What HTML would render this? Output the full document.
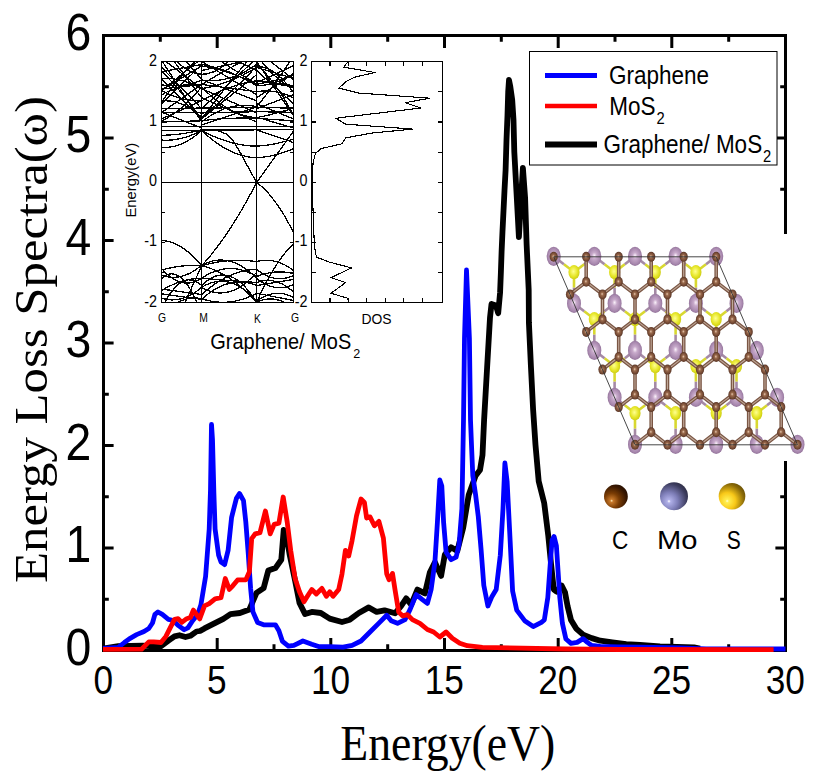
<!DOCTYPE html><html><head><meta charset="utf-8"><style>html,body{margin:0;padding:0;background:#fff;}svg{display:block;}</style></head><body>
<svg width="819" height="783" viewBox="0 0 819 783">
<rect width="819" height="783" fill="#fff"/>
<g stroke="#000" stroke-width="3" fill="none">
<rect x="103.5" y="35.5" width="682.0" height="615.0"/>
<path d="M160.3 650.5V644.3M160.3 35.5V41.7M217.2 650.5V638.0M217.2 35.5V48.0M274.0 650.5V644.3M274.0 35.5V41.7M330.8 650.5V638.0M330.8 35.5V48.0M387.7 650.5V644.3M387.7 35.5V41.7M444.5 650.5V638.0M444.5 35.5V48.0M501.3 650.5V644.3M501.3 35.5V41.7M558.2 650.5V638.0M558.2 35.5V48.0M615.0 650.5V644.3M615.0 35.5V41.7M671.8 650.5V638.0M671.8 35.5V48.0M728.7 650.5V644.3M728.7 35.5V41.7M103.5 599.2H108.8M785.5 599.2H780.2M103.5 548.0H113.6M785.5 548.0H775.4M103.5 496.8H108.8M785.5 496.8H780.2M103.5 445.5H113.6M785.5 445.5H775.4M103.5 394.2H108.8M785.5 394.2H780.2M103.5 343.0H113.6M785.5 343.0H775.4M103.5 291.8H108.8M785.5 291.8H780.2M103.5 240.5H113.6M785.5 240.5H775.4M103.5 189.2H108.8M785.5 189.2H780.2M103.5 138.0H113.6M785.5 138.0H775.4M103.5 86.8H108.8M785.5 86.8H780.2"/>
</g>
<g fill="none" stroke-linejoin="round" stroke-linecap="butt">
<polyline points="103.0,648.6 118.3,646.2 142.7,645.6 157.5,646.5 161.0,646.2 168.4,640.7 174.5,636.4 179.4,635.2 185.5,637.0 190.4,635.8 196.5,631.5 200.0,631.0 204.5,628.4 213.9,623.7 223.4,618.9 230.5,614.2 239.9,613.0 249.4,609.5 256.5,592.9 263.6,588.2 268.3,570.5 275.4,568.1 281.3,559.8 283.7,530.0 286.0,533.8 289.5,553.8 295.1,580.6 299.5,603.0 305.1,614.1 311.8,611.9 320.8,613.0 329.7,618.6 342.0,622.0 349.8,619.7 358.8,613.0 368.8,607.4 376.7,611.9 384.5,610.3 395.0,613.3 401.2,605.8 406.2,598.4 411.2,604.6 417.4,589.6 424.9,593.4 429.9,572.2 434.9,562.2 441.1,575.9 444.8,554.7 451.1,547.3 457.3,551.0 463.2,527.8 468.7,494.9 475.6,475.7 480.0,470.0 482.5,455.0 484.1,420.0 487.1,367.6 490.0,317.6 491.5,304.0 495.9,305.5 498.2,313.2 500.1,292.4 500.9,272.0 501.6,251.6 502.5,231.2 503.5,210.8 504.5,190.4 505.6,170.0 506.5,140.0 507.5,115.0 508.2,92.0 509.0,80.0 510.2,86.0 512.2,100.0 513.5,120.0 514.3,151.9 516.8,197.9 518.9,237.0 521.1,197.9 522.9,168.0 525.1,197.9 526.6,243.8 528.7,290.0 528.9,322.5 530.9,365.9 533.1,409.3 535.5,445.0 538.7,481.2 544.2,503.1 548.3,536.0 551.0,563.5 553.8,589.5 556.4,591.6 561.6,585.5 565.0,592.4 567.6,606.2 571.0,620.0 576.2,628.6 583.1,634.7 591.7,638.1 600.3,640.7 612.4,642.4 626.2,644.1 640.0,645.0 660.0,646.3 694.0,647.3 700.0,648.5" stroke="#000" stroke-width="5.8"/>
<polyline points="103.0,648.4 118.3,647.4 124.4,642.5 129.3,638.8 136.6,634.6 144.0,631.5 148.8,628.5 152.5,623.0 154.9,614.4 158.0,612.0 162.3,614.4 168.4,619.3 173.3,620.5 178.1,625.4 184.2,629.7 187.9,627.9 192.8,620.5 197.7,614.4 200.9,604.8 205.6,576.4 209.2,529.1 210.5,490.0 211.5,424.5 212.5,440.0 213.9,493.6 215.1,529.1 218.6,555.1 221.0,562.0 224.6,564.6 228.1,550.4 231.6,517.3 236.4,498.4 239.5,493.5 243.5,500.7 245.8,522.0 248.2,552.7 250.6,588.2 252.9,611.8 257.6,622.5 263.6,624.8 275.4,624.8 278.9,630.8 282.5,641.4 288.4,646.1 293.9,645.4 302.9,641.0 311.8,644.3 318.5,646.6 329.7,646.6 343.1,647.2 352.1,645.4 361.0,641.0 370.0,632.0 378.9,623.1 386.7,615.3 391.2,620.8 397.5,623.3 405.0,619.6 410.0,609.6 416.2,594.6 422.4,599.6 427.4,603.4 431.1,589.6 434.9,562.2 437.4,522.3 439.8,480.0 441.8,486.0 443.6,522.3 446.1,552.2 451.1,559.7 456.1,557.2 459.1,544.3 461.9,508.6 463.5,420.0 464.5,338.0 466.5,270.0 469.4,338.0 470.5,420.0 471.5,445.0 472.8,475.7 475.6,494.9 478.3,516.8 481.1,549.7 483.8,585.4 487.9,606.0 492.0,596.4 496.2,589.5 500.3,555.2 503.0,508.6 504.9,463.0 507.1,481.2 509.9,536.0 512.6,590.9 516.7,610.1 525.0,621.1 533.2,626.6 541.4,622.4 544.3,620.0 547.8,597.6 550.3,563.1 552.1,540.0 554.1,536.5 556.4,545.9 558.1,571.7 559.8,597.6 562.4,623.4 565.9,639.0 571.0,643.3 577.1,642.4 583.1,638.6 587.4,642.4 591.7,645.5 600.3,646.5 617.6,646.8 640.0,647.2 680.0,648.0 706.0,648.8 785.5,649.0" stroke="#0000ff" stroke-width="4.8"/>
<polyline points="103.0,649.4 141.5,649.2 148.8,641.9 153.7,641.9 161.0,642.5 165.9,636.4 170.8,626.6 174.5,619.3 178.1,618.7 181.8,622.4 186.7,618.7 190.4,617.5 193.4,610.1 196.5,614.4 199.7,618.9 204.5,605.9 209.2,603.6 215.1,598.8 221.0,597.7 225.3,578.5 229.3,589.4 232.8,585.8 237.6,579.9 245.8,579.9 249.4,571.7 251.7,538.6 255.3,533.8 260.0,532.6 265.4,511.0 270.2,533.8 274.2,524.4 278.9,523.2 283.2,497.0 287.2,522.0 290.7,550.4 295.1,578.4 299.5,591.8 304.0,601.8 307.4,596.3 311.8,589.5 316.3,594.0 321.9,588.4 326.4,596.3 329.7,591.8 333.1,596.3 338.7,589.5 342.0,573.9 345.4,550.4 348.7,556.0 352.1,540.4 356.5,515.8 361.0,499.0 364.4,502.4 366.6,518.0 370.0,516.9 374.4,525.8 378.9,521.4 383.4,538.1 386.7,573.9 389.0,579.7 392.5,573.4 395.0,589.6 398.7,612.1 402.5,615.8 407.4,614.6 412.4,619.6 419.9,623.3 427.4,629.5 433.6,632.0 439.8,637.0 446.1,632.0 452.3,638.3 459.8,643.2 467.3,645.7 482.4,647.3 565.0,649.0 620.0,649.5 773.6,649.6" stroke="#ff0000" stroke-width="4.8"/>
</g>
<g fill="#000">
<text transform="translate(91.40,664.50) scale(0.900,1)" font-family="Liberation Sans, sans-serif" font-size="51.50" text-anchor="end" >0</text>
<text transform="translate(91.40,562.00) scale(0.900,1)" font-family="Liberation Sans, sans-serif" font-size="51.50" text-anchor="end" >1</text>
<text transform="translate(91.40,459.50) scale(0.900,1)" font-family="Liberation Sans, sans-serif" font-size="51.50" text-anchor="end" >2</text>
<text transform="translate(91.40,357.00) scale(0.900,1)" font-family="Liberation Sans, sans-serif" font-size="51.50" text-anchor="end" >3</text>
<text transform="translate(91.40,254.50) scale(0.900,1)" font-family="Liberation Sans, sans-serif" font-size="51.50" text-anchor="end" >4</text>
<text transform="translate(91.40,152.00) scale(0.900,1)" font-family="Liberation Sans, sans-serif" font-size="51.50" text-anchor="end" >5</text>
<text transform="translate(91.40,49.50) scale(0.900,1)" font-family="Liberation Sans, sans-serif" font-size="51.50" text-anchor="end" >6</text>
<text transform="translate(103.20,694.00) scale(0.880,1)" font-family="Liberation Sans, sans-serif" font-size="40.00" text-anchor="middle" >0</text>
<text transform="translate(216.87,694.00) scale(0.880,1)" font-family="Liberation Sans, sans-serif" font-size="40.00" text-anchor="middle" >5</text>
<text transform="translate(330.53,694.00) scale(0.880,1)" font-family="Liberation Sans, sans-serif" font-size="40.00" text-anchor="middle" >10</text>
<text transform="translate(444.20,694.00) scale(0.880,1)" font-family="Liberation Sans, sans-serif" font-size="40.00" text-anchor="middle" >15</text>
<text transform="translate(557.87,694.00) scale(0.880,1)" font-family="Liberation Sans, sans-serif" font-size="40.00" text-anchor="middle" >20</text>
<text transform="translate(671.53,694.00) scale(0.880,1)" font-family="Liberation Sans, sans-serif" font-size="40.00" text-anchor="middle" >25</text>
<text transform="translate(785.20,694.00) scale(0.880,1)" font-family="Liberation Sans, sans-serif" font-size="40.00" text-anchor="middle" >30</text>
</g>
<text x="340.3" y="760" font-family="Liberation Serif, serif" font-size="49.7" textLength="215" lengthAdjust="spacingAndGlyphs">Energy(eV)</text>
<text transform="translate(47,583) rotate(-90)" x="0" y="0" font-family="Liberation Serif, serif" font-size="46.7" textLength="487" lengthAdjust="spacingAndGlyphs">Energy Loss Spectra(&#969;)</text>
<rect x="529.5" y="51.5" width="247.5" height="113.5" fill="#fff" stroke="#000" stroke-width="1"/>
<path d="M545 75.5H597" stroke="#0000ff" stroke-width="5"/>
<path d="M545 106H597" stroke="#ff0000" stroke-width="4.6"/>
<path d="M545 144.6H597" stroke="#000" stroke-width="6"/>
<text transform="translate(609.00,83.70) scale(0.900,1)" font-family="Liberation Sans, sans-serif" font-size="25.00" text-anchor="start" >Graphene</text>
<text transform="translate(609.20,115.00) scale(0.900,1)" font-family="Liberation Sans, sans-serif" font-size="25.00" text-anchor="start" >MoS</text>
<text transform="translate(656.40,124.00) scale(0.940,1)" font-family="Liberation Sans, sans-serif" font-size="15.70" text-anchor="start" >2</text>
<text transform="translate(603.40,152.80) scale(0.900,1)" font-family="Liberation Sans, sans-serif" font-size="25.00" text-anchor="start" >Graphene/ MoS</text>
<text transform="translate(762.90,161.90) scale(0.940,1)" font-family="Liberation Sans, sans-serif" font-size="15.70" text-anchor="start" >2</text>
<g>
<defs><clipPath id="bc"><rect x="161.8" y="61.5" width="131.8" height="240.9"/></clipPath></defs>
<g clip-path="url(#bc)" fill="none" stroke="#000" stroke-width="1.3" stroke-linejoin="round" shape-rendering="crispEdges">
<polyline points="161.8,240.6 165.1,240.9 168.4,241.5 171.8,242.4 175.1,243.7 178.4,245.3 181.7,247.2 185.0,249.5 188.3,252.1 191.7,255.0 195.0,258.2 198.3,261.8 201.6,265.8"/>
<polyline points="201.6,265.8 206.2,260.7 210.8,255.2 215.3,249.4 219.9,243.3 224.5,236.9 229.1,230.1 233.7,223.0 238.3,215.6 242.9,207.8 247.4,199.7 252.0,191.3 256.6,182.5"/>
<polyline points="256.6,182.5 259.7,184.9 262.8,187.6 265.9,190.6 268.9,193.9 272.0,197.6 275.1,201.7 278.2,206.0 281.3,210.7 284.4,215.7 287.4,221.1 290.5,226.8 293.6,232.8"/>
<polyline points="256.6,302.3 259.7,295.6 262.8,289.2 265.9,283.1 268.9,277.4 272.0,272.0 275.1,267.0 278.2,262.2 281.3,257.8 284.4,253.8 287.4,250.1 290.5,246.7 293.6,243.6"/>
<polyline points="183.8,305.3 185.3,302.0 186.8,298.7 188.2,295.4 189.7,292.1 191.2,288.8 192.7,285.5 194.2,282.2 195.7,278.9 197.2,275.6 198.6,272.4 200.1,269.1 201.6,265.8"/>
<polyline points="201.6,265.8 206.2,267.0 210.8,268.5 215.3,270.4 219.9,272.6 224.5,275.2 229.1,278.0 233.7,281.3 238.3,284.8 242.9,288.7 247.4,292.9 252.0,297.4 256.6,302.3"/>
<polyline points="161.8,270.0 165.1,269.1 168.4,268.3 171.8,267.6 175.1,267.0 178.4,266.5 181.7,266.1 185.0,265.8 188.3,265.6 191.7,265.5 195.0,265.5 198.3,265.6 201.6,265.8 206.2,264.5 210.8,263.4 215.3,262.5 219.9,261.7 224.5,261.1 229.1,260.7 233.7,260.4 238.3,260.3 242.9,260.4 247.4,260.6 252.0,261.0 256.6,261.6 259.7,260.9 262.8,260.4 265.9,260.2 268.9,260.3 272.0,260.7 275.1,261.3 278.2,262.2 281.3,263.3 284.4,264.7 287.4,266.4 290.5,268.3 293.6,270.6"/>
<polyline points="161.8,268.8 165.1,272.3 168.4,275.3 171.8,277.9 175.1,279.9 178.4,281.5 181.7,282.5 185.0,283.1 188.3,283.1 191.7,282.7 195.0,281.7 198.3,280.3 201.6,278.3 206.2,275.4 210.8,273.0 215.3,271.2 219.9,269.8 224.5,268.9 229.1,268.5 233.7,268.6 238.3,269.2 242.9,270.3 247.4,271.9 252.0,273.9 256.6,276.5 259.7,275.4 262.8,274.4 265.9,273.5 268.9,272.9 272.0,272.4 275.1,272.1 278.2,271.9 281.3,271.9 284.4,272.1 287.4,272.4 290.5,272.9 293.6,273.5"/>
<polyline points="161.8,275.3 165.1,276.3 168.4,277.0 171.8,277.3 175.1,277.3 178.4,276.9 181.7,276.2 185.0,275.2 188.3,273.9 191.7,272.2 195.0,270.2 198.3,267.8 201.6,265.2 206.2,263.0 210.8,261.4 215.3,260.4 219.9,260.0 224.5,260.2 229.1,261.0 233.7,262.4 238.3,264.4 242.9,267.0 247.4,270.2 252.0,273.9 256.6,278.3 259.7,280.7 262.8,282.7 265.9,284.3 268.9,285.7 272.0,286.7 275.1,287.3 278.2,287.7 281.3,287.7 284.4,287.3 287.4,286.7 290.5,285.7 293.6,284.3"/>
<polyline points="161.8,289.1 165.1,289.6 168.4,290.0 171.8,290.5 175.1,290.9 178.4,291.4 181.7,291.8 185.0,292.3 188.3,292.7 191.7,293.2 195.0,293.6 198.3,294.1 201.6,294.5 206.2,290.6 210.8,287.0 215.3,283.7 219.9,280.8 224.5,278.2 229.1,275.9 233.7,274.0 238.3,272.4 242.9,271.2 247.4,270.2 252.0,269.6 256.6,269.4 259.7,271.7 262.8,273.7 265.9,275.3 268.9,276.7 272.0,277.7 275.1,278.3 278.2,278.7 281.3,278.7 284.4,278.3 287.4,277.7 290.5,276.7 293.6,275.3"/>
<polyline points="161.8,290.3 165.1,288.4 168.4,286.7 171.8,285.1 175.1,283.7 178.4,282.4 181.7,281.3 185.0,280.4 188.3,279.7 191.7,279.1 195.0,278.7 198.3,278.4 201.6,278.3 206.2,278.7 210.8,279.0 215.3,279.4 219.9,279.7 224.5,280.1 229.1,280.4 233.7,280.8 238.3,281.1 242.9,281.5 247.4,281.8 252.0,282.2 256.6,282.5 259.7,281.5 262.8,280.8 265.9,280.4 268.9,280.4 272.0,280.7 275.1,281.3 278.2,282.3 281.3,283.6 284.4,285.2 287.4,287.2 290.5,289.5 293.6,292.1"/>
<polyline points="161.8,293.9 165.1,294.4 168.4,294.8 171.8,295.3 175.1,295.7 178.4,296.2 181.7,296.6 185.0,297.1 188.3,297.5 191.7,298.0 195.0,298.4 198.3,298.9 201.6,299.3 206.2,295.4 210.8,292.0 215.3,289.1 219.9,286.7 224.5,284.8 229.1,283.4 233.7,282.5 238.3,282.1 242.9,282.2 247.4,282.8 252.0,283.9 256.6,285.5 259.7,285.0 262.8,284.5 265.9,284.0 268.9,283.5 272.0,283.0 275.1,282.5 278.2,282.0 281.3,281.5 284.4,281.0 287.4,280.5 290.5,280.0 293.6,279.5"/>
<polyline points="161.8,298.1 165.1,299.0 168.4,299.6 171.8,299.9 175.1,299.8 178.4,299.4 181.7,298.7 185.0,297.6 188.3,296.2 191.7,294.5 195.0,292.4 198.3,290.1 201.6,287.3 206.2,284.8 210.8,283.0 215.3,281.8 219.9,281.3 224.5,281.4 229.1,282.2 233.7,283.7 238.3,285.9 242.9,288.7 247.4,292.2 252.0,296.3 256.6,301.1 259.7,299.0 262.8,297.2 265.9,295.7 268.9,294.6 272.0,293.8 275.1,293.3 278.2,293.2 281.3,293.4 284.4,293.9 287.4,294.8 290.5,296.0 293.6,297.5"/>
<polyline points="161.8,308.3 165.1,301.8 168.4,296.2 171.8,291.4 175.1,287.4 178.4,284.2 181.7,281.9 185.0,280.5 188.3,279.8 191.7,280.0 195.0,281.0 198.3,282.8 201.6,285.5 206.2,281.4 210.8,278.3 215.3,276.2 219.9,275.1 224.5,275.0 229.1,275.9 233.7,277.8 238.3,280.7 242.9,284.6 247.4,289.5 252.0,295.4 256.6,302.3 259.7,301.0 262.8,300.0 265.9,299.3 268.9,299.0 272.0,299.0 275.1,299.3 278.2,300.0 281.3,301.0 284.4,302.3 287.4,304.0 290.5,306.0 293.6,308.3"/>
<polyline points="161.8,314.3 165.1,311.2 168.4,308.4 171.8,305.9 175.1,303.8 178.4,302.0 181.7,300.5 185.0,299.4 188.3,298.6 191.7,298.1 195.0,298.0 198.3,298.2 201.6,298.7 206.2,300.1 210.8,301.1 215.3,301.9 219.9,302.2 224.5,302.3 229.1,302.0 233.7,301.4 238.3,300.4 242.9,299.2 247.4,297.5 252.0,295.6 256.6,293.3 259.7,293.9 262.8,294.5 265.9,295.1 268.9,295.7 272.0,296.3 275.1,296.9 278.2,297.5 281.3,298.1 284.4,298.7 287.4,299.3 290.5,299.9 293.6,300.5"/>
<polyline points="161.8,278.3 165.1,275.8 168.4,274.3 171.8,273.8 175.1,274.3 178.4,275.8 181.7,278.3 185.0,281.8 188.3,286.3 191.7,291.8 195.0,298.3 198.3,305.8 201.6,314.3"/>
<polyline points="201.6,287.3 206.2,289.7 210.8,291.5 215.3,292.6 219.9,293.0 224.5,292.7 229.1,291.8 233.7,290.2 238.3,288.0 242.9,285.1 247.4,281.5 252.0,277.3 256.6,272.4"/>
<polyline points="161.8,147.4 165.1,147.5 168.4,147.3 171.8,146.8 175.1,146.1 178.4,145.0 181.7,143.8 185.0,142.2 188.3,140.4 191.7,138.3 195.0,136.0 198.3,133.3 201.6,130.4 206.2,134.7 210.8,138.5 215.3,142.0 219.9,145.2 224.5,148.0 229.1,150.4 233.7,152.5 238.3,154.3 242.9,155.6 247.4,156.7 252.0,157.4 256.6,157.7 259.7,157.5 262.8,157.2 265.9,156.8 268.9,156.3 272.0,155.7 275.1,155.0 278.2,154.2 281.3,153.2 284.4,152.2 287.4,151.1 290.5,149.9 293.6,148.6"/>
<polyline points="161.8,140.1 165.1,140.3 168.4,140.2 171.8,140.0 175.1,139.6 178.4,139.0 181.7,138.3 185.0,137.4 188.3,136.4 191.7,135.1 195.0,133.7 198.3,132.2 201.6,130.4 206.2,132.9 210.8,135.1 215.3,137.1 219.9,138.9 224.5,140.5 229.1,141.9 233.7,143.2 238.3,144.2 242.9,145.0 247.4,145.6 252.0,146.0 256.6,146.2 259.7,145.9 262.8,145.6 265.9,145.3 268.9,144.8 272.0,144.3 275.1,143.8 278.2,143.1 281.3,142.4 284.4,141.6 287.4,140.8 290.5,139.9 293.6,138.9"/>
<polyline points="161.8,135.3 165.1,135.2 168.4,135.1 171.8,134.8 175.1,134.6 178.4,134.2 181.7,133.8 185.0,133.3 188.3,132.7 191.7,132.1 195.0,131.4 198.3,130.7 201.6,129.8 206.2,129.8 210.8,129.8 215.3,129.8 219.9,129.8 224.5,129.8 229.1,129.8 233.7,129.8 238.3,129.8 242.9,129.8 247.4,129.8 252.0,129.8 256.6,129.8 259.7,130.9 262.8,132.0 265.9,133.0 268.9,134.1 272.0,135.1 275.1,136.2 278.2,137.3 281.3,138.3 284.4,139.4 287.4,140.4 290.5,141.5 293.6,142.6"/>
<polyline points="256.6,182.5 246.9,164.9 241.5,154.7 233.2,140.7 226.6,134.1 218.0,130.8 210.0,130.1 201.6,129.8"/>
<polyline points="256.6,182.5 259.7,178.2 262.8,173.9 265.9,169.6 268.9,165.4 272.0,161.1 275.1,156.8 278.2,152.5 281.3,148.2 284.4,143.9 287.4,139.6 290.5,135.3 293.6,131.1"/>
<polyline points="161.8,130.4 165.1,130.4 168.4,130.4 171.8,130.4 175.1,130.4 178.4,130.4 181.7,130.4 185.0,130.4 188.3,130.4 191.7,130.4 195.0,130.4 198.3,130.4 201.6,130.4 206.2,130.4 210.8,130.3 215.3,130.3 219.9,130.2 224.5,130.2 229.1,130.1 233.7,130.1 238.3,130.0 242.9,130.0 247.4,129.9 252.0,129.9 256.6,129.8 259.7,129.8 262.8,129.7 265.9,129.7 268.9,129.6 272.0,129.6 275.1,129.5 278.2,129.5 281.3,129.4 284.4,129.4 287.4,129.3 290.5,129.3 293.6,129.2"/>
<polyline points="161.8,126.8 165.1,126.8 168.4,126.7 171.8,126.7 175.1,126.6 178.4,126.6 181.7,126.5 185.0,126.5 188.3,126.4 191.7,126.4 195.0,126.3 198.3,126.3 201.6,126.2 206.2,126.3 210.8,126.3 215.3,126.4 219.9,126.4 224.5,126.5 229.1,126.5 233.7,126.6 238.3,126.6 242.9,126.7 247.4,126.7 252.0,126.8 256.6,126.8 259.7,126.8 262.8,126.7 265.9,126.7 268.9,126.6 272.0,126.6 275.1,126.5 278.2,126.5 281.3,126.4 284.4,126.4 287.4,126.3 290.5,126.3 293.6,126.2"/>
<polyline points="161.8,122.0 165.1,121.9 168.4,121.8 171.8,121.7 175.1,121.6 178.4,121.5 181.7,121.4 185.0,121.3 188.3,121.2 191.7,121.1 195.0,121.0 198.3,120.9 201.6,120.8 206.2,120.2 210.8,119.7 215.3,119.3 219.9,118.9 224.5,118.6 229.1,118.3 233.7,118.2 238.3,118.1 242.9,118.0 247.4,118.1 252.0,118.2 256.6,118.3 259.7,118.5 262.8,118.7 265.9,118.9 268.9,119.2 272.0,119.4 275.1,119.6 278.2,119.8 281.3,120.0 284.4,120.2 287.4,120.4 290.5,120.6 293.6,120.8"/>
<polyline points="161.8,112.3 165.1,112.3 168.4,112.4 171.8,112.4 175.1,112.5 178.4,112.5 181.7,112.6 185.0,112.6 188.3,112.7 191.7,112.7 195.0,112.8 198.3,112.8 201.6,112.9 206.2,112.8 210.8,112.7 215.3,112.6 219.9,112.5 224.5,112.4 229.1,112.3 233.7,112.2 238.3,112.1 242.9,112.0 247.4,111.9 252.0,111.8 256.6,111.7 259.7,111.7 262.8,111.8 265.9,111.8 268.9,111.9 272.0,111.9 275.1,112.0 278.2,112.0 281.3,112.1 284.4,112.1 287.4,112.2 290.5,112.2 293.6,112.3"/>
<polyline points="161.8,108.7 165.1,108.6 168.4,108.6 171.8,108.5 175.1,108.5 178.4,108.4 181.7,108.4 185.0,108.3 188.3,108.3 191.7,108.2 195.0,108.2 198.3,108.1 201.6,108.1 206.2,108.0 210.8,108.0 215.3,107.9 219.9,107.9 224.5,107.8 229.1,107.8 233.7,107.7 238.3,107.7 242.9,107.6 247.4,107.5 252.0,107.5 256.6,107.4 259.7,107.5 262.8,107.5 265.9,107.6 268.9,107.7 272.0,107.7 275.1,107.8 278.2,107.8 281.3,107.9 284.4,107.9 287.4,108.0 290.5,108.0 293.6,108.1"/>
<polyline points="161.8,94.7 165.1,93.0 168.4,91.3 171.8,89.9 175.1,88.6 178.4,87.5 181.7,86.6 185.0,85.8 188.3,85.2 191.7,84.8 195.0,84.5 198.3,84.4 201.6,84.4 206.2,85.1 210.8,85.7 215.3,86.3 219.9,86.9 224.5,87.5 229.1,88.1 233.7,88.7 238.3,89.3 242.9,89.9 247.4,90.5 252.0,91.1 256.6,91.7 259.7,91.3 262.8,91.0 265.9,91.0 268.9,91.0 272.0,91.3 275.1,91.7 278.2,92.3 281.3,93.1 284.4,94.0 287.4,95.1 290.5,96.3 293.6,97.8"/>
<polyline points="161.8,90.5 165.1,92.3 168.4,93.9 171.8,95.3 175.1,96.6 178.4,97.7 181.7,98.7 185.0,99.4 188.3,100.1 191.7,100.5 195.0,100.8 198.3,100.9 201.6,100.8 206.2,98.2 210.8,95.8 215.3,93.5 219.9,91.4 224.5,89.5 229.1,87.8 233.7,86.2 238.3,84.8 242.9,83.5 247.4,82.5 252.0,81.6 256.6,80.8 259.7,81.3 262.8,81.8 265.9,82.3 268.9,82.8 272.0,83.3 275.1,83.8 278.2,84.3 281.3,84.9 284.4,85.4 287.4,85.9 290.5,86.4 293.6,86.9"/>
<polyline points="161.8,78.4 165.1,78.3 168.4,78.4 171.8,78.7 175.1,79.1 178.4,79.7 181.7,80.5 185.0,81.5 188.3,82.6 191.7,83.8 195.0,85.3 198.3,86.9 201.6,88.7 206.2,87.8 210.8,86.8 215.3,85.7 219.9,84.3 224.5,82.8 229.1,81.1 233.7,79.3 238.3,77.3 242.9,75.1 247.4,72.7 252.0,70.2 256.6,67.5 259.7,68.4 262.8,69.3 265.9,70.2 268.9,71.1 272.0,72.0 275.1,72.9 278.2,73.9 281.3,74.8 284.4,75.7 287.4,76.6 290.5,77.5 293.6,78.4"/>
<polyline points="161.8,71.7 165.1,71.1 168.4,70.5 171.8,69.9 175.1,69.3 178.4,68.7 181.7,68.1 185.0,67.5 188.3,66.9 191.7,66.3 195.0,65.7 198.3,65.1 201.6,64.5 206.2,65.3 210.8,66.3 215.3,67.5 219.9,68.8 224.5,70.4 229.1,72.0 233.7,73.9 238.3,75.9 242.9,78.1 247.4,80.4 252.0,83.0 256.6,85.7 259.7,85.6 262.8,85.3 265.9,84.9 268.9,84.3 272.0,83.6 275.1,82.6 278.2,81.5 281.3,80.3 284.4,78.9 287.4,77.3 290.5,75.5 293.6,73.6"/>
<polyline points="161.8,89.1 165.1,88.7 168.4,88.3 171.8,87.9 175.1,87.5 178.4,87.2 181.7,86.8 185.0,86.4 188.3,86.1 191.7,85.7 195.0,85.4 198.3,85.0 201.6,84.7 206.2,81.8 210.8,79.0 215.3,76.3 219.9,73.6 224.5,71.0 229.1,68.5 233.7,66.1 238.3,63.7 242.9,61.4 247.4,59.1 252.0,56.9 256.6,54.8 259.7,59.0 262.8,62.9 265.9,66.6 268.9,70.0 272.0,73.2 275.1,76.1 278.2,78.7 281.3,81.1 284.4,83.3 287.4,85.1 290.5,86.8 293.6,88.2"/>
<polyline points="161.8,84.8 165.1,85.3 168.4,85.6 171.8,85.7 175.1,85.7 178.4,85.6 181.7,85.3 185.0,84.8 188.3,84.2 191.7,83.4 195.0,82.4 198.3,81.3 201.6,80.0 206.2,80.6 210.8,80.7 215.3,80.6 219.9,80.1 224.5,79.3 229.1,78.2 233.7,76.7 238.3,74.9 242.9,72.8 247.4,70.3 252.0,67.5 256.6,64.4 259.7,67.2 262.8,70.3 265.9,73.7 268.9,77.3 272.0,81.2 275.1,85.3 278.2,89.6 281.3,94.2 284.4,99.1 287.4,104.2 290.5,109.5 293.6,115.1"/>
<polyline points="161.8,71.6 165.1,74.9 168.4,78.3 171.8,81.8 175.1,85.5 178.4,89.3 181.7,93.2 185.0,97.2 188.3,101.3 191.7,105.6 195.0,110.0 198.3,114.5 201.6,119.2 206.2,113.0 210.8,106.8 215.3,100.8 219.9,94.8 224.5,89.0 229.1,83.2 233.7,77.6 238.3,72.0 242.9,66.5 247.4,61.1 252.0,55.8 256.6,50.6 259.7,52.3 262.8,53.6 265.9,54.7 268.9,55.5 272.0,56.0 275.1,56.2 278.2,56.2 281.3,55.9 284.4,55.3 287.4,54.5 290.5,53.3 293.6,51.9"/>
<polyline points="161.8,120.9 165.1,119.2 168.4,117.3 171.8,115.2 175.1,112.9 178.4,110.3 181.7,107.6 185.0,104.6 188.3,101.5 191.7,98.1 195.0,94.6 198.3,90.8 201.6,86.8 206.2,91.5 210.8,95.7 215.3,99.6 219.9,103.1 224.5,106.3 229.1,109.0 233.7,111.4 238.3,113.4 242.9,115.1 247.4,116.3 252.0,117.2 256.6,117.6 259.7,117.0 262.8,116.4 265.9,115.7 268.9,115.0 272.0,114.2 275.1,113.4 278.2,112.6 281.3,111.8 284.4,110.9 287.4,110.0 290.5,109.1 293.6,108.2"/>
<polyline points="161.8,90.0 165.1,88.0 168.4,86.0 171.8,84.0 175.1,82.0 178.4,79.9 181.7,77.9 185.0,75.9 188.3,73.9 191.7,71.9 195.0,69.9 198.3,67.9 201.6,65.9 206.2,66.7 210.8,67.6 215.3,68.7 219.9,69.9 224.5,71.3 229.1,72.7 233.7,74.3 238.3,76.0 242.9,77.9 247.4,79.9 252.0,82.0 256.6,84.3 259.7,83.7 262.8,83.1 265.9,82.5 268.9,81.9 272.0,81.2 275.1,80.5 278.2,79.7 281.3,79.0 284.4,78.1 287.4,77.3 290.5,76.4 293.6,75.5"/>
<polyline points="161.8,101.8 165.1,97.0 168.4,92.4 171.8,88.0 175.1,83.7 178.4,79.6 181.7,75.6 185.0,71.9 188.3,68.3 191.7,64.8 195.0,61.6 198.3,58.5 201.6,55.6 206.2,55.9 210.8,56.1 215.3,56.1 219.9,56.0 224.5,55.7 229.1,55.3 233.7,54.7 238.3,54.0 242.9,53.1 247.4,52.1 252.0,51.0 256.6,49.7 259.7,51.8 262.8,53.7 265.9,55.4 268.9,56.9 272.0,58.2 275.1,59.2 278.2,60.1 281.3,60.7 284.4,61.1 287.4,61.2 290.5,61.2 293.6,61.0"/>
<polyline points="161.8,101.0 165.1,100.8 168.4,100.9 171.8,101.3 175.1,101.9 178.4,102.9 181.7,104.1 185.0,105.6 188.3,107.4 191.7,109.4 195.0,111.8 198.3,114.4 201.6,117.3 206.2,113.6 210.8,109.7 215.3,105.8 219.9,101.8 224.5,97.7 229.1,93.5 233.7,89.2 238.3,84.8 242.9,80.3 247.4,75.7 252.0,71.1 256.6,66.3 259.7,66.5 262.8,67.1 265.9,68.0 268.9,69.3 272.0,70.9 275.1,73.0 278.2,75.4 281.3,78.1 284.4,81.3 287.4,84.8 290.5,88.6 293.6,92.9"/>
<polyline points="161.8,60.4 165.1,65.7 168.4,70.9 171.8,76.1 175.1,81.3 178.4,86.5 181.7,91.6 185.0,96.7 188.3,101.8 191.7,106.9 195.0,111.9 198.3,116.9 201.6,121.9 206.2,118.5 210.8,115.5 215.3,112.9 219.9,110.7 224.5,108.8 229.1,107.4 233.7,106.3 238.3,105.6 242.9,105.3 247.4,105.4 252.0,105.9 256.6,106.7 259.7,103.0 262.8,99.1 265.9,95.1 268.9,91.1 272.0,87.0 275.1,82.8 278.2,78.5 281.3,74.1 284.4,69.7 287.4,65.2 290.5,60.6 293.6,55.9"/>
<polyline points="173.8,58.4 176.1,60.8 178.4,63.1 180.8,65.1 183.1,66.9 185.4,68.5 187.7,69.9 190.0,71.1 192.3,72.1 194.7,72.9 197.0,73.6 199.3,74.0 201.6,74.2"/>
<polyline points="201.6,74.2 203.9,74.1 206.3,73.9 208.6,73.4 210.9,72.7 213.3,71.9 215.6,70.8 217.9,69.6 220.3,68.1 222.6,66.4 224.9,64.6 227.3,62.5 229.6,60.2"/>
<polyline points="161.8,67.5 165.1,70.9 168.4,74.4 171.8,77.8 175.1,81.2 178.4,84.7 181.7,88.1 185.0,91.5 188.3,94.9 191.7,98.4 195.0,101.8 198.3,105.2 201.6,108.7"/>
<polyline points="161.8,58.4 165.1,60.9 168.4,63.5 171.8,66.0 175.1,68.5 178.4,71.0 181.7,73.6 185.0,76.1 188.3,78.6 191.7,81.1 195.0,83.6 198.3,86.2 201.6,88.7"/>
<polyline points="161.8,112.3 165.1,110.0 168.4,107.7 171.8,105.3 175.1,103.0 178.4,100.7 181.7,98.4 185.0,96.1 188.3,93.7 191.7,91.4 195.0,89.1 198.3,86.8 201.6,84.4"/>
<polyline points="161.8,112.3 165.1,113.6 168.4,114.9 171.8,116.2 175.1,117.5 178.4,118.8 181.7,120.2 185.0,121.5 188.3,122.8 191.7,124.1 195.0,125.4 198.3,126.7 201.6,128.0"/>
<polyline points="161.8,90.5 165.1,87.8 168.4,85.2 171.8,82.5 175.1,79.8 178.4,77.1 181.7,74.5 185.0,71.8 188.3,69.1 191.7,66.4 195.0,63.8 198.3,61.1 201.6,58.4"/>
<polyline points="161.8,103.8 165.1,100.5 168.4,97.3 171.8,94.0 175.1,90.7 178.4,87.4 181.7,84.1 185.0,80.9 188.3,77.6 191.7,74.3 195.0,71.0 198.3,67.8 201.6,64.5"/>
<polyline points="171.8,58.4 174.3,61.7 176.8,65.0 179.2,68.3 181.7,71.5 184.2,74.8 186.7,78.1 189.2,81.4 191.7,84.7 194.2,87.9 196.6,91.2 199.1,94.5 201.6,97.8"/>
<polyline points="161.8,79.6 165.1,82.9 168.4,86.2 171.8,89.4 175.1,92.7 178.4,96.0 181.7,99.3 185.0,102.6 188.3,105.8 191.7,109.1 195.0,112.4 198.3,115.7 201.6,118.9"/>
<polyline points="161.8,118.9 165.1,117.4 168.4,115.9 171.8,114.4 175.1,112.9 178.4,111.4 181.7,109.9 185.0,108.4 188.3,106.8 191.7,105.3 195.0,103.8 198.3,102.3 201.6,100.8"/>
<polyline points="183.8,58.4 185.3,60.2 186.8,62.0 188.2,63.7 189.7,65.5 191.2,67.3 192.7,69.0 194.2,70.8 195.7,72.5 197.2,74.3 198.6,76.1 200.1,77.8 201.6,79.6"/>
<polyline points="201.6,108.7 206.2,104.5 210.8,100.3 215.3,96.1 219.9,91.9 224.5,87.7 229.1,83.5 233.7,79.4 238.3,75.2 242.9,71.0 247.4,66.8 252.0,62.6 256.6,58.4"/>
<polyline points="201.6,118.9 206.2,115.3 210.8,111.6 215.3,107.9 219.9,104.2 224.5,100.5 229.1,96.9 233.7,93.2 238.3,89.5 242.9,85.8 247.4,82.1 252.0,78.4 256.6,74.8"/>
<polyline points="201.6,79.6 206.2,81.4 210.8,83.1 215.3,84.9 219.9,86.7 224.5,88.4 229.1,90.2 233.7,92.0 238.3,93.7 242.9,95.5 247.4,97.3 252.0,99.0 256.6,100.8"/>
<polyline points="201.6,88.7 206.2,90.7 210.8,92.7 215.3,94.7 219.9,96.8 224.5,98.8 229.1,100.8 233.7,102.8 238.3,104.8 242.9,106.8 247.4,108.9 252.0,110.9 256.6,112.9"/>
<polyline points="201.6,61.5 206.2,64.2 210.8,67.0 215.3,69.8 219.9,72.5 224.5,75.3 229.1,78.1 233.7,80.9 238.3,83.6 242.9,86.4 247.4,89.2 252.0,92.0 256.6,94.7"/>
<polyline points="201.6,97.8 206.2,99.8 210.8,101.8 215.3,103.8 219.9,105.8 224.5,107.9 229.1,109.9 233.7,111.9 238.3,113.9 242.9,115.9 247.4,117.9 252.0,120.0 256.6,122.0"/>
<polyline points="216.6,58.4 219.9,60.6 223.3,62.8 226.6,64.9 229.9,67.1 233.3,69.3 236.6,71.4 239.9,73.6 243.3,75.8 246.6,77.9 249.9,80.1 253.3,82.3 256.6,84.4"/>
<polyline points="201.6,125.0 206.2,123.5 210.8,122.0 215.3,120.5 219.9,118.9 224.5,117.4 229.1,115.9 233.7,114.4 238.3,112.9 242.9,111.4 247.4,109.9 252.0,108.4 256.6,106.8"/>
<polyline points="231.6,58.4 233.7,59.4 235.8,60.4 237.8,61.5 239.9,62.5 242.0,63.5 244.1,64.5 246.2,65.5 248.3,66.5 250.4,67.5 252.4,68.5 254.5,69.5 256.6,70.5"/>
<polyline points="201.6,70.5 206.2,69.5 210.8,68.5 215.3,67.5 219.9,66.5 224.5,65.5 229.1,64.5 233.7,63.5 238.3,62.5 242.9,61.5 247.4,60.4 252.0,59.4 256.6,58.4"/>
<polyline points="256.6,61.5 259.7,66.0 262.8,70.5 265.9,75.1 268.9,79.6 272.0,84.1 275.1,88.7 278.2,93.2 281.3,97.8 284.4,102.3 287.4,106.8 290.5,111.4 293.6,115.9"/>
<polyline points="256.6,108.7 259.7,107.5 262.8,106.3 265.9,105.2 268.9,104.0 272.0,102.9 275.1,101.7 278.2,100.5 281.3,99.4 284.4,98.2 287.4,97.1 290.5,95.9 293.6,94.7"/>
<polyline points="256.6,117.1 259.7,118.0 262.8,118.9 265.9,119.9 268.9,120.8 272.0,121.7 275.1,122.6 278.2,123.5 281.3,124.4 284.4,125.3 287.4,126.2 290.5,127.1 293.6,128.0"/>
<polyline points="256.6,82.6 259.7,81.2 262.8,79.8 265.9,78.4 268.9,77.0 272.0,75.6 275.1,74.2 278.2,72.7 281.3,71.3 284.4,69.9 287.4,68.5 290.5,67.1 293.6,65.7"/>
<polyline points="256.6,80.2 259.7,80.7 262.8,81.1 265.9,81.6 268.9,82.0 272.0,82.5 275.1,82.9 278.2,83.4 281.3,83.8 284.4,84.3 287.4,84.8 290.5,85.2 293.6,85.7"/>
<polyline points="256.6,97.8 259.7,95.7 262.8,93.7 265.9,91.7 268.9,89.7 272.0,87.7 275.1,85.7 278.2,83.6 281.3,81.6 284.4,79.6 287.4,77.6 290.5,75.6 293.6,73.6"/>
<polyline points="256.6,70.5 259.7,73.3 262.8,76.1 265.9,78.9 268.9,81.6 272.0,84.4 275.1,87.2 278.2,89.9 281.3,92.7 284.4,95.5 287.4,98.3 290.5,101.0 293.6,103.8"/>
<polyline points="266.6,58.4 268.9,60.2 271.1,62.0 273.4,63.7 275.6,65.5 277.9,67.3 280.1,69.0 282.4,70.8 284.6,72.5 286.9,74.3 289.1,76.1 291.4,77.8 293.6,79.6"/>
<polyline points="256.6,103.8 259.7,105.1 262.8,106.3 265.9,107.6 268.9,108.9 272.0,110.1 275.1,111.4 278.2,112.6 281.3,113.9 284.4,115.2 287.4,116.4 290.5,117.7 293.6,118.9"/>
</g>
<g fill="none" stroke="#000" stroke-width="1.1" shape-rendering="crispEdges">
<rect x="161.8" y="61.5" width="131.8" height="240.9"/>
<rect x="311.6" y="61.5" width="130.7" height="240.9"/>
<path d="M201.6 61.5V302.3 M256.6 61.5V302.3 M161.8 182.5H293.6M161.8 61.5h3.2M293.6 61.5h-3.6M311.6 61.5h4M442.3 61.5h-4M161.8 91.7h3.2M293.6 91.7h-3.6M311.6 91.7h4M442.3 91.7h-4M161.8 122.0h3.2M293.6 122.0h-3.6M311.6 122.0h4M442.3 122.0h-4M161.8 152.2h3.2M293.6 152.2h-3.6M311.6 152.2h4M442.3 152.2h-4M161.8 182.5h3.2M293.6 182.5h-3.6M311.6 182.5h4M442.3 182.5h-4M161.8 212.4h3.2M293.6 212.4h-3.6M311.6 212.4h4M442.3 212.4h-4M161.8 242.4h3.2M293.6 242.4h-3.6M311.6 242.4h4M442.3 242.4h-4M161.8 272.4h3.2M293.6 272.4h-3.6M311.6 272.4h4M442.3 272.4h-4M161.8 302.3h3.2M293.6 302.3h-3.6M311.6 302.3h4M442.3 302.3h-4M330.0 61.5v4M330.0 302.3v-4M348.4 61.5v4M348.4 302.3v-4M366.8 61.5v4M366.8 302.3v-4M385.2 61.5v4M385.2 302.3v-4M403.6 61.5v4M403.6 302.3v-4M422.1 61.5v4M422.1 302.3v-4M193.8 61.5v3M236.7 61.5v3"/>
</g>
<polyline points="347.6,62.2 343.7,67.2 375.0,72.5 355.4,77.0 346.6,81.2 338.8,88.1 358.4,93.0 429.6,98.2 405.2,102.7 420.9,108.0 342.7,117.4 335.9,118.4 345.7,124.2 413.0,129.1 372.0,133.0 345.7,137.9 341.8,143.8 321.2,148.6 315.4,153.5 313.0,163.3 312.5,182.8 313.0,209.3 314.4,246.4 316.4,257.1 329.0,262.0 351.5,267.9 331.0,277.7 345.7,282.5 331.0,293.3 347.6,298.2 348.6,302.0" fill="none" stroke="#000" stroke-width="1.1" stroke-linejoin="round" shape-rendering="crispEdges"/>
<text transform="translate(157.00,66.10) scale(0.920,1)" font-family="Liberation Sans, sans-serif" font-size="15.60" text-anchor="end" >2</text>
<text transform="translate(307.40,66.10) scale(0.920,1)" font-family="Liberation Sans, sans-serif" font-size="15.60" text-anchor="end" >2</text>
<text transform="translate(157.00,125.97) scale(0.920,1)" font-family="Liberation Sans, sans-serif" font-size="15.60" text-anchor="end" >1</text>
<text transform="translate(307.40,125.97) scale(0.920,1)" font-family="Liberation Sans, sans-serif" font-size="15.60" text-anchor="end" >1</text>
<text transform="translate(157.00,185.70) scale(0.920,1)" font-family="Liberation Sans, sans-serif" font-size="15.60" text-anchor="end" >0</text>
<text transform="translate(307.40,185.70) scale(0.920,1)" font-family="Liberation Sans, sans-serif" font-size="15.60" text-anchor="end" >0</text>
<text transform="translate(157.00,245.90) scale(0.920,1)" font-family="Liberation Sans, sans-serif" font-size="15.60" text-anchor="end" >-1</text>
<text transform="translate(307.40,245.90) scale(0.920,1)" font-family="Liberation Sans, sans-serif" font-size="15.60" text-anchor="end" >-1</text>
<text transform="translate(157.00,306.60) scale(0.920,1)" font-family="Liberation Sans, sans-serif" font-size="15.60" text-anchor="end" >-2</text>
<text transform="translate(307.40,306.60) scale(0.920,1)" font-family="Liberation Sans, sans-serif" font-size="15.60" text-anchor="end" >-2</text>
<text transform="translate(162.10,321.80) scale(0.870,1)" font-family="Liberation Sans, sans-serif" font-size="11.90" text-anchor="middle" >G</text>
<text transform="translate(203.60,321.80) scale(0.870,1)" font-family="Liberation Sans, sans-serif" font-size="11.90" text-anchor="middle" >M</text>
<text transform="translate(257.50,322.80) scale(0.870,1)" font-family="Liberation Sans, sans-serif" font-size="11.90" text-anchor="middle" >K</text>
<text transform="translate(295.10,321.80) scale(0.870,1)" font-family="Liberation Sans, sans-serif" font-size="11.90" text-anchor="middle" >G</text>
<text transform="translate(376.50,323.50) scale(1.000,1)" font-family="Liberation Sans, sans-serif" font-size="13.90" text-anchor="middle" >DOS</text>
<text transform="translate(136.2,217.6) rotate(-90)" font-family="Liberation Sans, sans-serif" font-size="14.8">Energy(eV)</text>
<text transform="translate(210.30,349.10) scale(0.934,1)" font-family="Liberation Sans, sans-serif" font-size="21.40" text-anchor="start" >Graphene/ MoS</text>
<text transform="translate(353.20,358.40) scale(0.930,1)" font-family="Liberation Sans, sans-serif" font-size="13.50" text-anchor="start" >2</text>
</g>
<rect x="548" y="234" width="265" height="227" fill="#fff"/>
<defs>
<radialGradient id="gC" cx="0.5" cy="0.5" r="0.55" fx="0.45" fy="0.45"><stop offset="0" stop-color="#e8c8b0"/><stop offset="0.3" stop-color="#9a6a4c"/><stop offset="0.75" stop-color="#6e4430"/><stop offset="1" stop-color="#4a2c1e"/></radialGradient>
<radialGradient id="gMo" cx="0.5" cy="0.5" r="0.55" fx="0.5" fy="0.45"><stop offset="0" stop-color="#fbf2fb"/><stop offset="0.3" stop-color="#c8aacb"/><stop offset="0.75" stop-color="#a888ae"/><stop offset="1" stop-color="#8a6a92"/></radialGradient>
<radialGradient id="gS" cx="0.45" cy="0.45" r="0.6"><stop offset="0" stop-color="#ffff90"/><stop offset="0.6" stop-color="#e6e628"/><stop offset="1" stop-color="#c8c810"/></radialGradient>
<radialGradient id="lC" cx="0.32" cy="0.68" r="0.9" fx="0.32" fy="0.68"><stop offset="0" stop-color="#fff0c0"/><stop offset="0.07" stop-color="#c8782a"/><stop offset="0.35" stop-color="#7a3c04"/><stop offset="0.7" stop-color="#361600"/><stop offset="1" stop-color="#1a0800"/></radialGradient>
<radialGradient id="lMo" cx="0.32" cy="0.68" r="0.9" fx="0.32" fy="0.68"><stop offset="0" stop-color="#ffffff"/><stop offset="0.07" stop-color="#b0b0e8"/><stop offset="0.35" stop-color="#7e7eb8"/><stop offset="0.7" stop-color="#3c3c5e"/><stop offset="1" stop-color="#20202e"/></radialGradient>
<radialGradient id="lS" cx="0.32" cy="0.68" r="0.9" fx="0.32" fy="0.68"><stop offset="0" stop-color="#ffffe0"/><stop offset="0.07" stop-color="#ffee50"/><stop offset="0.35" stop-color="#f8c818"/><stop offset="0.7" stop-color="#8a6a08"/><stop offset="1" stop-color="#4a3800"/></radialGradient>
</defs>
<g stroke-width="2.6"><line x1="574.0" y1="272.1" x2="563.9" y2="264.2" stroke="#d8d830"/><line x1="563.9" y1="264.2" x2="553.7" y2="256.4" stroke="#a58aa5"/><line x1="574.0" y1="272.1" x2="584.2" y2="264.2" stroke="#d8d830"/><line x1="584.2" y1="264.2" x2="594.3" y2="256.4" stroke="#a58aa5"/><line x1="574.0" y1="272.1" x2="574.0" y2="287.7" stroke="#d8d830"/><line x1="574.0" y1="287.7" x2="574.0" y2="303.4" stroke="#a58aa5"/><line x1="594.3" y1="319.1" x2="584.2" y2="311.2" stroke="#d8d830"/><line x1="584.2" y1="311.2" x2="574.0" y2="303.4" stroke="#a58aa5"/><line x1="594.3" y1="319.1" x2="604.5" y2="311.2" stroke="#d8d830"/><line x1="604.5" y1="311.2" x2="614.6" y2="303.4" stroke="#a58aa5"/><line x1="594.3" y1="319.1" x2="594.3" y2="334.7" stroke="#d8d830"/><line x1="594.3" y1="334.7" x2="594.3" y2="350.4" stroke="#a58aa5"/><line x1="614.6" y1="366.1" x2="604.5" y2="358.2" stroke="#d8d830"/><line x1="604.5" y1="358.2" x2="594.3" y2="350.4" stroke="#a58aa5"/><line x1="614.6" y1="366.1" x2="624.8" y2="358.2" stroke="#d8d830"/><line x1="624.8" y1="358.2" x2="635.0" y2="350.4" stroke="#a58aa5"/><line x1="614.6" y1="366.1" x2="614.6" y2="381.7" stroke="#d8d830"/><line x1="614.6" y1="381.7" x2="614.6" y2="397.4" stroke="#a58aa5"/><line x1="635.0" y1="413.1" x2="624.8" y2="405.2" stroke="#d8d830"/><line x1="624.8" y1="405.2" x2="614.6" y2="397.4" stroke="#a58aa5"/><line x1="635.0" y1="413.1" x2="645.1" y2="405.2" stroke="#d8d830"/><line x1="645.1" y1="405.2" x2="655.3" y2="397.4" stroke="#a58aa5"/><line x1="635.0" y1="413.1" x2="635.0" y2="428.7" stroke="#d8d830"/><line x1="635.0" y1="428.7" x2="635.0" y2="444.4" stroke="#a58aa5"/><line x1="614.6" y1="272.1" x2="604.5" y2="264.2" stroke="#d8d830"/><line x1="604.5" y1="264.2" x2="594.3" y2="256.4" stroke="#a58aa5"/><line x1="614.6" y1="272.1" x2="624.8" y2="264.2" stroke="#d8d830"/><line x1="624.8" y1="264.2" x2="635.0" y2="256.4" stroke="#a58aa5"/><line x1="614.6" y1="272.1" x2="614.6" y2="287.7" stroke="#d8d830"/><line x1="614.6" y1="287.7" x2="614.6" y2="303.4" stroke="#a58aa5"/><line x1="635.0" y1="319.1" x2="624.8" y2="311.2" stroke="#d8d830"/><line x1="624.8" y1="311.2" x2="614.6" y2="303.4" stroke="#a58aa5"/><line x1="635.0" y1="319.1" x2="645.1" y2="311.2" stroke="#d8d830"/><line x1="645.1" y1="311.2" x2="655.3" y2="303.4" stroke="#a58aa5"/><line x1="635.0" y1="319.1" x2="635.0" y2="334.7" stroke="#d8d830"/><line x1="635.0" y1="334.7" x2="635.0" y2="350.4" stroke="#a58aa5"/><line x1="655.3" y1="366.1" x2="645.1" y2="358.2" stroke="#d8d830"/><line x1="645.1" y1="358.2" x2="635.0" y2="350.4" stroke="#a58aa5"/><line x1="655.3" y1="366.1" x2="665.4" y2="358.2" stroke="#d8d830"/><line x1="665.4" y1="358.2" x2="675.6" y2="350.4" stroke="#a58aa5"/><line x1="655.3" y1="366.1" x2="655.3" y2="381.7" stroke="#d8d830"/><line x1="655.3" y1="381.7" x2="655.3" y2="397.4" stroke="#a58aa5"/><line x1="675.6" y1="413.1" x2="665.4" y2="405.2" stroke="#d8d830"/><line x1="665.4" y1="405.2" x2="655.3" y2="397.4" stroke="#a58aa5"/><line x1="675.6" y1="413.1" x2="685.7" y2="405.2" stroke="#d8d830"/><line x1="685.7" y1="405.2" x2="695.9" y2="397.4" stroke="#a58aa5"/><line x1="675.6" y1="413.1" x2="675.6" y2="428.7" stroke="#d8d830"/><line x1="675.6" y1="428.7" x2="675.6" y2="444.4" stroke="#a58aa5"/><line x1="655.3" y1="272.1" x2="645.1" y2="264.2" stroke="#d8d830"/><line x1="645.1" y1="264.2" x2="635.0" y2="256.4" stroke="#a58aa5"/><line x1="655.3" y1="272.1" x2="665.4" y2="264.2" stroke="#d8d830"/><line x1="665.4" y1="264.2" x2="675.6" y2="256.4" stroke="#a58aa5"/><line x1="655.3" y1="272.1" x2="655.3" y2="287.7" stroke="#d8d830"/><line x1="655.3" y1="287.7" x2="655.3" y2="303.4" stroke="#a58aa5"/><line x1="675.6" y1="319.1" x2="665.4" y2="311.2" stroke="#d8d830"/><line x1="665.4" y1="311.2" x2="655.3" y2="303.4" stroke="#a58aa5"/><line x1="675.6" y1="319.1" x2="685.7" y2="311.2" stroke="#d8d830"/><line x1="685.7" y1="311.2" x2="695.9" y2="303.4" stroke="#a58aa5"/><line x1="675.6" y1="319.1" x2="675.6" y2="334.7" stroke="#d8d830"/><line x1="675.6" y1="334.7" x2="675.6" y2="350.4" stroke="#a58aa5"/><line x1="695.9" y1="366.1" x2="685.7" y2="358.2" stroke="#d8d830"/><line x1="685.7" y1="358.2" x2="675.6" y2="350.4" stroke="#a58aa5"/><line x1="695.9" y1="366.1" x2="706.0" y2="358.2" stroke="#d8d830"/><line x1="706.0" y1="358.2" x2="716.2" y2="350.4" stroke="#a58aa5"/><line x1="695.9" y1="366.1" x2="695.9" y2="381.7" stroke="#d8d830"/><line x1="695.9" y1="381.7" x2="695.9" y2="397.4" stroke="#a58aa5"/><line x1="716.2" y1="413.1" x2="706.0" y2="405.2" stroke="#d8d830"/><line x1="706.0" y1="405.2" x2="695.9" y2="397.4" stroke="#a58aa5"/><line x1="716.2" y1="413.1" x2="726.4" y2="405.2" stroke="#d8d830"/><line x1="726.4" y1="405.2" x2="736.5" y2="397.4" stroke="#a58aa5"/><line x1="716.2" y1="413.1" x2="716.2" y2="428.7" stroke="#d8d830"/><line x1="716.2" y1="428.7" x2="716.2" y2="444.4" stroke="#a58aa5"/><line x1="695.9" y1="272.1" x2="685.7" y2="264.2" stroke="#d8d830"/><line x1="685.7" y1="264.2" x2="675.6" y2="256.4" stroke="#a58aa5"/><line x1="695.9" y1="272.1" x2="706.0" y2="264.2" stroke="#d8d830"/><line x1="706.0" y1="264.2" x2="716.2" y2="256.4" stroke="#a58aa5"/><line x1="695.9" y1="272.1" x2="695.9" y2="287.7" stroke="#d8d830"/><line x1="695.9" y1="287.7" x2="695.9" y2="303.4" stroke="#a58aa5"/><line x1="716.2" y1="319.1" x2="706.0" y2="311.2" stroke="#d8d830"/><line x1="706.0" y1="311.2" x2="695.9" y2="303.4" stroke="#a58aa5"/><line x1="716.2" y1="319.1" x2="726.4" y2="311.2" stroke="#d8d830"/><line x1="726.4" y1="311.2" x2="736.5" y2="303.4" stroke="#a58aa5"/><line x1="716.2" y1="319.1" x2="716.2" y2="334.7" stroke="#d8d830"/><line x1="716.2" y1="334.7" x2="716.2" y2="350.4" stroke="#a58aa5"/><line x1="736.5" y1="366.1" x2="726.4" y2="358.2" stroke="#d8d830"/><line x1="726.4" y1="358.2" x2="716.2" y2="350.4" stroke="#a58aa5"/><line x1="736.5" y1="366.1" x2="746.7" y2="358.2" stroke="#d8d830"/><line x1="746.7" y1="358.2" x2="756.8" y2="350.4" stroke="#a58aa5"/><line x1="736.5" y1="366.1" x2="736.5" y2="381.7" stroke="#d8d830"/><line x1="736.5" y1="381.7" x2="736.5" y2="397.4" stroke="#a58aa5"/><line x1="756.8" y1="413.1" x2="746.7" y2="405.2" stroke="#d8d830"/><line x1="746.7" y1="405.2" x2="736.5" y2="397.4" stroke="#a58aa5"/><line x1="756.8" y1="413.1" x2="767.0" y2="405.2" stroke="#d8d830"/><line x1="767.0" y1="405.2" x2="777.1" y2="397.4" stroke="#a58aa5"/><line x1="756.8" y1="413.1" x2="756.8" y2="428.7" stroke="#d8d830"/><line x1="756.8" y1="428.7" x2="756.8" y2="444.4" stroke="#a58aa5"/></g>
<ellipse cx="553.7" cy="256.4" rx="7" ry="9.6" fill="url(#gMo)"/>
<ellipse cx="574.0" cy="303.4" rx="7" ry="9.6" fill="url(#gMo)"/>
<ellipse cx="594.3" cy="350.4" rx="7" ry="9.6" fill="url(#gMo)"/>
<ellipse cx="614.6" cy="397.4" rx="7" ry="9.6" fill="url(#gMo)"/>
<ellipse cx="635.0" cy="444.4" rx="7" ry="9.6" fill="url(#gMo)"/>
<ellipse cx="594.3" cy="256.4" rx="7" ry="9.6" fill="url(#gMo)"/>
<ellipse cx="614.6" cy="303.4" rx="7" ry="9.6" fill="url(#gMo)"/>
<ellipse cx="635.0" cy="350.4" rx="7" ry="9.6" fill="url(#gMo)"/>
<ellipse cx="655.3" cy="397.4" rx="7" ry="9.6" fill="url(#gMo)"/>
<ellipse cx="675.6" cy="444.4" rx="7" ry="9.6" fill="url(#gMo)"/>
<ellipse cx="635.0" cy="256.4" rx="7" ry="9.6" fill="url(#gMo)"/>
<ellipse cx="655.3" cy="303.4" rx="7" ry="9.6" fill="url(#gMo)"/>
<ellipse cx="675.6" cy="350.4" rx="7" ry="9.6" fill="url(#gMo)"/>
<ellipse cx="695.9" cy="397.4" rx="7" ry="9.6" fill="url(#gMo)"/>
<ellipse cx="716.2" cy="444.4" rx="7" ry="9.6" fill="url(#gMo)"/>
<ellipse cx="675.6" cy="256.4" rx="7" ry="9.6" fill="url(#gMo)"/>
<ellipse cx="695.9" cy="303.4" rx="7" ry="9.6" fill="url(#gMo)"/>
<ellipse cx="716.2" cy="350.4" rx="7" ry="9.6" fill="url(#gMo)"/>
<ellipse cx="736.5" cy="397.4" rx="7" ry="9.6" fill="url(#gMo)"/>
<ellipse cx="756.8" cy="444.4" rx="7" ry="9.6" fill="url(#gMo)"/>
<ellipse cx="716.2" cy="256.4" rx="7" ry="9.6" fill="url(#gMo)"/>
<ellipse cx="736.5" cy="303.4" rx="7" ry="9.6" fill="url(#gMo)"/>
<ellipse cx="756.8" cy="350.4" rx="7" ry="9.6" fill="url(#gMo)"/>
<ellipse cx="777.1" cy="397.4" rx="7" ry="9.6" fill="url(#gMo)"/>
<ellipse cx="797.5" cy="444.4" rx="7" ry="9.6" fill="url(#gMo)"/>
<ellipse cx="574.0" cy="272.1" rx="5.6" ry="7.2" fill="url(#gS)"/>
<ellipse cx="594.3" cy="319.1" rx="5.6" ry="7.2" fill="url(#gS)"/>
<ellipse cx="614.6" cy="366.1" rx="5.6" ry="7.2" fill="url(#gS)"/>
<ellipse cx="635.0" cy="413.1" rx="5.6" ry="7.2" fill="url(#gS)"/>
<ellipse cx="614.6" cy="272.1" rx="5.6" ry="7.2" fill="url(#gS)"/>
<ellipse cx="635.0" cy="319.1" rx="5.6" ry="7.2" fill="url(#gS)"/>
<ellipse cx="655.3" cy="366.1" rx="5.6" ry="7.2" fill="url(#gS)"/>
<ellipse cx="675.6" cy="413.1" rx="5.6" ry="7.2" fill="url(#gS)"/>
<ellipse cx="655.3" cy="272.1" rx="5.6" ry="7.2" fill="url(#gS)"/>
<ellipse cx="675.6" cy="319.1" rx="5.6" ry="7.2" fill="url(#gS)"/>
<ellipse cx="695.9" cy="366.1" rx="5.6" ry="7.2" fill="url(#gS)"/>
<ellipse cx="716.2" cy="413.1" rx="5.6" ry="7.2" fill="url(#gS)"/>
<ellipse cx="695.9" cy="272.1" rx="5.6" ry="7.2" fill="url(#gS)"/>
<ellipse cx="716.2" cy="319.1" rx="5.6" ry="7.2" fill="url(#gS)"/>
<ellipse cx="736.5" cy="366.1" rx="5.6" ry="7.2" fill="url(#gS)"/>
<ellipse cx="756.8" cy="413.1" rx="5.6" ry="7.2" fill="url(#gS)"/>
<path d="M570.0 294.4L586.2 281.8M586.2 331.9L602.5 319.4M602.5 369.6L618.7 357.0M618.7 407.1L635.0 394.6M635.0 444.8L651.2 432.2M586.2 256.8L586.2 281.8M602.5 294.4L586.2 281.8M602.5 294.4L602.5 319.4M602.5 294.4L618.7 281.8M618.7 331.9L602.5 319.4M618.7 331.9L618.7 357.0M618.7 331.9L635.0 319.4M635.0 369.6L618.7 357.0M635.0 369.6L635.0 394.6M635.0 369.6L651.2 357.0M651.2 407.1L635.0 394.6M651.2 407.1L651.2 432.2M651.2 407.1L667.5 394.6M667.5 444.8L651.2 432.2M667.5 444.8L683.7 432.2M618.7 256.8L618.7 281.8M635.0 294.4L618.7 281.8M635.0 294.4L635.0 319.4M635.0 294.4L651.2 281.8M651.2 331.9L635.0 319.4M651.2 331.9L651.2 357.0M651.2 331.9L667.5 319.4M667.5 369.6L651.2 357.0M667.5 369.6L667.5 394.6M667.5 369.6L683.7 357.0M683.7 407.1L667.5 394.6M683.7 407.1L683.7 432.2M683.7 407.1L700.0 394.6M700.0 444.8L683.7 432.2M700.0 444.8L716.2 432.2M651.2 256.8L651.2 281.8M667.5 294.4L651.2 281.8M667.5 294.4L667.5 319.4M667.5 294.4L683.7 281.8M683.7 331.9L667.5 319.4M683.7 331.9L683.7 357.0M683.7 331.9L700.0 319.4M700.0 369.6L683.7 357.0M700.0 369.6L700.0 394.6M700.0 369.6L716.2 357.0M716.2 407.1L700.0 394.6M716.2 407.1L716.2 432.2M716.2 407.1L732.5 394.6M732.5 444.8L716.2 432.2M732.5 444.8L748.7 432.2M683.7 256.8L683.7 281.8M700.0 294.4L683.7 281.8M700.0 294.4L700.0 319.4M700.0 294.4L716.2 281.8M716.2 331.9L700.0 319.4M716.2 331.9L716.2 357.0M716.2 331.9L732.5 319.4M732.5 369.6L716.2 357.0M732.5 369.6L732.5 394.6M732.5 369.6L748.7 357.0M748.7 407.1L732.5 394.6M748.7 407.1L748.7 432.2M748.7 407.1L765.0 394.6M765.0 444.8L748.7 432.2M765.0 444.8L781.2 432.2M716.2 256.8L716.2 281.8M732.5 294.4L716.2 281.8M732.5 294.4L732.5 319.4M748.7 331.9L732.5 319.4M748.7 331.9L748.7 357.0M765.0 369.6L748.7 357.0M765.0 369.6L765.0 394.6M781.2 407.1L765.0 394.6M781.2 407.1L781.2 432.2M797.5 444.8L781.2 432.2" stroke="#7a5644" stroke-width="3.6" fill="none"/>
<path d="M570.0 294.4L586.2 281.8M586.2 331.9L602.5 319.4M602.5 369.6L618.7 357.0M618.7 407.1L635.0 394.6M635.0 444.8L651.2 432.2M586.2 256.8L586.2 281.8M602.5 294.4L586.2 281.8M602.5 294.4L602.5 319.4M602.5 294.4L618.7 281.8M618.7 331.9L602.5 319.4M618.7 331.9L618.7 357.0M618.7 331.9L635.0 319.4M635.0 369.6L618.7 357.0M635.0 369.6L635.0 394.6M635.0 369.6L651.2 357.0M651.2 407.1L635.0 394.6M651.2 407.1L651.2 432.2M651.2 407.1L667.5 394.6M667.5 444.8L651.2 432.2M667.5 444.8L683.7 432.2M618.7 256.8L618.7 281.8M635.0 294.4L618.7 281.8M635.0 294.4L635.0 319.4M635.0 294.4L651.2 281.8M651.2 331.9L635.0 319.4M651.2 331.9L651.2 357.0M651.2 331.9L667.5 319.4M667.5 369.6L651.2 357.0M667.5 369.6L667.5 394.6M667.5 369.6L683.7 357.0M683.7 407.1L667.5 394.6M683.7 407.1L683.7 432.2M683.7 407.1L700.0 394.6M700.0 444.8L683.7 432.2M700.0 444.8L716.2 432.2M651.2 256.8L651.2 281.8M667.5 294.4L651.2 281.8M667.5 294.4L667.5 319.4M667.5 294.4L683.7 281.8M683.7 331.9L667.5 319.4M683.7 331.9L683.7 357.0M683.7 331.9L700.0 319.4M700.0 369.6L683.7 357.0M700.0 369.6L700.0 394.6M700.0 369.6L716.2 357.0M716.2 407.1L700.0 394.6M716.2 407.1L716.2 432.2M716.2 407.1L732.5 394.6M732.5 444.8L716.2 432.2M732.5 444.8L748.7 432.2M683.7 256.8L683.7 281.8M700.0 294.4L683.7 281.8M700.0 294.4L700.0 319.4M700.0 294.4L716.2 281.8M716.2 331.9L700.0 319.4M716.2 331.9L716.2 357.0M716.2 331.9L732.5 319.4M732.5 369.6L716.2 357.0M732.5 369.6L732.5 394.6M732.5 369.6L748.7 357.0M748.7 407.1L732.5 394.6M748.7 407.1L748.7 432.2M748.7 407.1L765.0 394.6M765.0 444.8L748.7 432.2M765.0 444.8L781.2 432.2M716.2 256.8L716.2 281.8M732.5 294.4L716.2 281.8M732.5 294.4L732.5 319.4M748.7 331.9L732.5 319.4M748.7 331.9L748.7 357.0M765.0 369.6L748.7 357.0M765.0 369.6L765.0 394.6M781.2 407.1L765.0 394.6M781.2 407.1L781.2 432.2M797.5 444.8L781.2 432.2" stroke="#c0a898" stroke-width="1.1" fill="none"/>
<ellipse cx="553.7" cy="256.8" rx="4.1" ry="5" fill="url(#gC)"/>
<ellipse cx="570.0" cy="294.4" rx="4.1" ry="5" fill="url(#gC)"/>
<ellipse cx="586.2" cy="331.9" rx="4.1" ry="5" fill="url(#gC)"/>
<ellipse cx="602.5" cy="369.6" rx="4.1" ry="5" fill="url(#gC)"/>
<ellipse cx="618.7" cy="407.1" rx="4.1" ry="5" fill="url(#gC)"/>
<ellipse cx="635.0" cy="444.8" rx="4.1" ry="5" fill="url(#gC)"/>
<ellipse cx="586.2" cy="256.8" rx="4.1" ry="5" fill="url(#gC)"/>
<ellipse cx="602.5" cy="294.4" rx="4.1" ry="5" fill="url(#gC)"/>
<ellipse cx="618.7" cy="331.9" rx="4.1" ry="5" fill="url(#gC)"/>
<ellipse cx="635.0" cy="369.6" rx="4.1" ry="5" fill="url(#gC)"/>
<ellipse cx="651.2" cy="407.1" rx="4.1" ry="5" fill="url(#gC)"/>
<ellipse cx="667.5" cy="444.8" rx="4.1" ry="5" fill="url(#gC)"/>
<ellipse cx="618.7" cy="256.8" rx="4.1" ry="5" fill="url(#gC)"/>
<ellipse cx="635.0" cy="294.4" rx="4.1" ry="5" fill="url(#gC)"/>
<ellipse cx="651.2" cy="331.9" rx="4.1" ry="5" fill="url(#gC)"/>
<ellipse cx="667.5" cy="369.6" rx="4.1" ry="5" fill="url(#gC)"/>
<ellipse cx="683.7" cy="407.1" rx="4.1" ry="5" fill="url(#gC)"/>
<ellipse cx="700.0" cy="444.8" rx="4.1" ry="5" fill="url(#gC)"/>
<ellipse cx="651.2" cy="256.8" rx="4.1" ry="5" fill="url(#gC)"/>
<ellipse cx="667.5" cy="294.4" rx="4.1" ry="5" fill="url(#gC)"/>
<ellipse cx="683.7" cy="331.9" rx="4.1" ry="5" fill="url(#gC)"/>
<ellipse cx="700.0" cy="369.6" rx="4.1" ry="5" fill="url(#gC)"/>
<ellipse cx="716.2" cy="407.1" rx="4.1" ry="5" fill="url(#gC)"/>
<ellipse cx="732.5" cy="444.8" rx="4.1" ry="5" fill="url(#gC)"/>
<ellipse cx="683.7" cy="256.8" rx="4.1" ry="5" fill="url(#gC)"/>
<ellipse cx="700.0" cy="294.4" rx="4.1" ry="5" fill="url(#gC)"/>
<ellipse cx="716.2" cy="331.9" rx="4.1" ry="5" fill="url(#gC)"/>
<ellipse cx="732.5" cy="369.6" rx="4.1" ry="5" fill="url(#gC)"/>
<ellipse cx="748.7" cy="407.1" rx="4.1" ry="5" fill="url(#gC)"/>
<ellipse cx="765.0" cy="444.8" rx="4.1" ry="5" fill="url(#gC)"/>
<ellipse cx="716.2" cy="256.8" rx="4.1" ry="5" fill="url(#gC)"/>
<ellipse cx="732.5" cy="294.4" rx="4.1" ry="5" fill="url(#gC)"/>
<ellipse cx="748.7" cy="331.9" rx="4.1" ry="5" fill="url(#gC)"/>
<ellipse cx="765.0" cy="369.6" rx="4.1" ry="5" fill="url(#gC)"/>
<ellipse cx="781.2" cy="407.1" rx="4.1" ry="5" fill="url(#gC)"/>
<ellipse cx="797.5" cy="444.8" rx="4.1" ry="5" fill="url(#gC)"/>
<ellipse cx="586.2" cy="281.8" rx="4.1" ry="5" fill="url(#gC)"/>
<ellipse cx="602.5" cy="319.4" rx="4.1" ry="5" fill="url(#gC)"/>
<ellipse cx="618.7" cy="357.0" rx="4.1" ry="5" fill="url(#gC)"/>
<ellipse cx="635.0" cy="394.6" rx="4.1" ry="5" fill="url(#gC)"/>
<ellipse cx="651.2" cy="432.2" rx="4.1" ry="5" fill="url(#gC)"/>
<ellipse cx="618.7" cy="281.8" rx="4.1" ry="5" fill="url(#gC)"/>
<ellipse cx="635.0" cy="319.4" rx="4.1" ry="5" fill="url(#gC)"/>
<ellipse cx="651.2" cy="357.0" rx="4.1" ry="5" fill="url(#gC)"/>
<ellipse cx="667.5" cy="394.6" rx="4.1" ry="5" fill="url(#gC)"/>
<ellipse cx="683.7" cy="432.2" rx="4.1" ry="5" fill="url(#gC)"/>
<ellipse cx="651.2" cy="281.8" rx="4.1" ry="5" fill="url(#gC)"/>
<ellipse cx="667.5" cy="319.4" rx="4.1" ry="5" fill="url(#gC)"/>
<ellipse cx="683.7" cy="357.0" rx="4.1" ry="5" fill="url(#gC)"/>
<ellipse cx="700.0" cy="394.6" rx="4.1" ry="5" fill="url(#gC)"/>
<ellipse cx="716.2" cy="432.2" rx="4.1" ry="5" fill="url(#gC)"/>
<ellipse cx="683.7" cy="281.8" rx="4.1" ry="5" fill="url(#gC)"/>
<ellipse cx="700.0" cy="319.4" rx="4.1" ry="5" fill="url(#gC)"/>
<ellipse cx="716.2" cy="357.0" rx="4.1" ry="5" fill="url(#gC)"/>
<ellipse cx="732.5" cy="394.6" rx="4.1" ry="5" fill="url(#gC)"/>
<ellipse cx="748.7" cy="432.2" rx="4.1" ry="5" fill="url(#gC)"/>
<ellipse cx="716.2" cy="281.8" rx="4.1" ry="5" fill="url(#gC)"/>
<ellipse cx="732.5" cy="319.4" rx="4.1" ry="5" fill="url(#gC)"/>
<ellipse cx="748.7" cy="357.0" rx="4.1" ry="5" fill="url(#gC)"/>
<ellipse cx="765.0" cy="394.6" rx="4.1" ry="5" fill="url(#gC)"/>
<ellipse cx="781.2" cy="432.2" rx="4.1" ry="5" fill="url(#gC)"/>
<polygon points="553.7,256.8 716.2,256.8 797.5,444.8 635.0,444.8" fill="none" stroke="#333" stroke-width="0.9"/>
<circle cx="615.9" cy="496.5" r="11.9" fill="url(#lC)"/>
<circle cx="674" cy="496.2" r="14" fill="url(#lMo)"/>
<circle cx="732" cy="496.2" r="13.3" fill="url(#lS)"/>
<text transform="translate(612.00,548.80) scale(0.860,1)" font-family="Liberation Sans, sans-serif" font-size="26.30">C</text>
<text x="657.0" y="548.8" font-family="Liberation Sans, sans-serif" font-size="26.3" textLength="40.5" lengthAdjust="spacingAndGlyphs">Mo</text>
<text transform="translate(726.80,548.80) scale(0.800,1)" font-family="Liberation Sans, sans-serif" font-size="26.30">S</text>
</svg></body></html>
